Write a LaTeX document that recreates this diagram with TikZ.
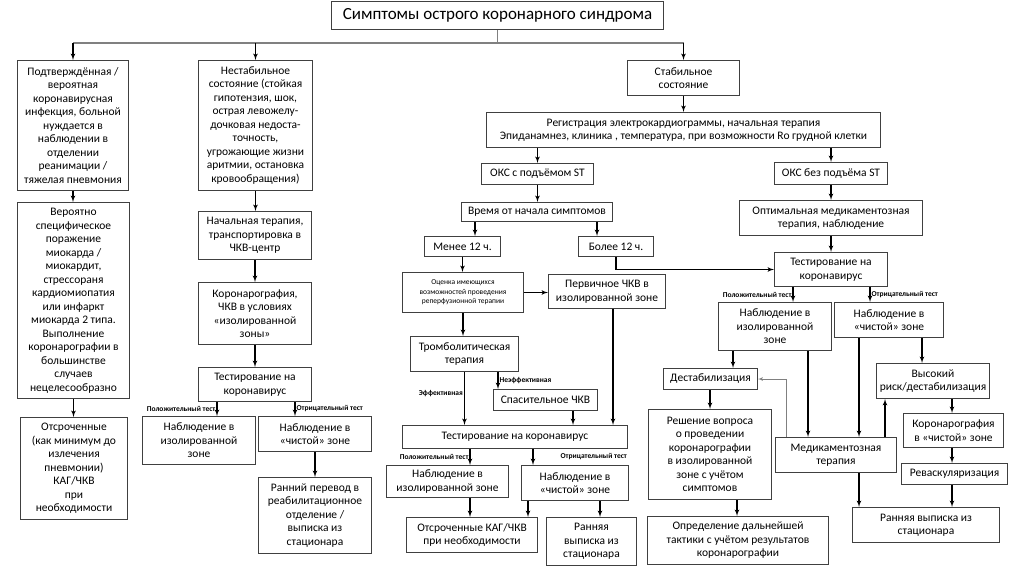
\documentclass[tikz,border=0pt]{standalone}
\usepackage{fontspec}
\setmainfont{Carlito}
\usetikzlibrary{arrows, calc}

\begin{document}
\begin{tikzpicture}[x=1pt,y=-1pt,line width=1.2pt,>=latex',
  box/.style={draw=black!75,line width=1pt,anchor=north west,align=center,inner sep=1pt,font=\fontsize{11.5}{13.5}\selectfont},
  lbl/.style={font=\bfseries\fontsize{7.5}{9}\selectfont,inner sep=1pt}]
\useasboundingbox[fill=white] (0,0) rectangle (1024,574);
% top
\node [box,minimum width=332,minimum height=28,font=\fontsize{17}{20}\selectfont] (title) at (331,1) {Симптомы острого коронарного синдрома};
\node [box,minimum width=111,minimum height=130] (conf) at (17,60) {Подтверждённая /\\вероятная\\коронавирусная\\инфекция, больной\\нуждается в\\наблюдении в\\отделении\\реанимации /\\тяжелая пневмония};
\node [box,minimum width=114,minimum height=130] (unst) at (198,60) {Нестабильное\\состояние (стойкая\\гипотензия, шок,\\острая левожелу-\\дочковая недоста-\\точность,\\угрожающие жизни\\аритмии, остановка\\кровообращения)};
\node [box,minimum width=112,minimum height=35] (stab) at (627,60) {Стабильное\\состояние};
% left columns
\node [box,minimum width=112,minimum height=196] (prob) at (17,202) {Вероятно\\специфическое\\поражение\\миокарда /\\миокардит,\\стрессораня\\кардиомиопатия\\или инфаркт\\миокарда 2 типа.\\Выполнение\\коронарографии в\\большинстве\\случаев\\нецелесообразно};
\node [box,minimum width=107,minimum height=102] (delayL) at (20,417) {Отсроченные\\(как минимум до\\излечения\\пневмонии)\\КАГ/ЧКВ\\при\\необходимости};
\node [box,minimum width=113,minimum height=48] (init) at (198,211) {Начальная терапия,\\транспортировка в\\ЧКВ-центр};
\node [box,minimum width=113,minimum height=62] (cag) at (198,282) {Коронарография,\\ЧКВ в условиях\\«изолированной\\зоны»};
\node [box,minimum width=113,minimum height=34] (testL) at (198,367) {Тестирование на\\коронавирус};
\node [box,minimum width=113,minimum height=48] (isoL) at (142,416) {Наблюдение в\\изолированной\\зоне};
\node [box,minimum width=113,minimum height=35] (cleanL) at (258,416) {Наблюдение в\\«чистой» зоне};
\node [box,minimum width=113,minimum height=76] (transfer) at (258,477) {Ранний перевод в\\реабилитационное\\отделение /\\выписка из\\стационара};
% stable branch
\node [box,minimum width=394,minimum height=35] (reg) at (486,112) {Регистрация электрокардиограммы, начальная терапия\\Эпиданамнез, клиника , температура, при возможности Ro грудной клетки};
\node [box,minimum width=112,minimum height=21] (stemi) at (481,163) {ОКС с подъёмом ST};
\node [box,minimum width=113,minimum height=22] (nstemi) at (774,162) {ОКС без подъёма ST};
\node [box,minimum width=151,minimum height=19] (time) at (461,202) {Время от начала симптомов};
\node [box,minimum width=183,minimum height=35] (opt) at (739,200) {Оптимальная медикаментозная\\терапия, наблюдение};
\node [box,minimum width=76,minimum height=20] (less) at (424,236) {Менее 12 ч.};
\node [box,minimum width=75,minimum height=20] (more) at (578,236) {Более 12 ч.};
\node [box,minimum width=121,minimum height=40,font=\fontsize{7.5}{9.5}\selectfont] (assess) at (402,272) {Оценка имеющихся\\возможностей проведения\\реперфузионной терапии};
\node [box,minimum width=117,minimum height=34] (pci) at (548,274) {Первичное ЧКВ в\\изолированной зоне};
\node [box,minimum width=108,minimum height=35] (thromb) at (410,336) {Тромболитическая\\терапия};
\node [box,minimum width=104,minimum height=21] (rescue) at (493,389) {Спасительное ЧКВ};
\node [box,minimum width=225,minimum height=23] (testM) at (402,425) {Тестирование на коронавирус};
\node [box,minimum width=122,minimum height=32] (isoM) at (386,465) {Наблюдение в\\изолированной зоне};
\node [box,minimum width=107,minimum height=35] (cleanM) at (521,465) {Наблюдение в\\«чистой» зоне};
\node [box,minimum width=131,minimum height=35] (delayM) at (406,517) {Отсроченные КАГ/ЧКВ\\при необходимости};
\node [box,minimum width=90,minimum height=48] (earlyM) at (546,517) {Ранняя\\выписка из\\стационара};
% right branch
\node [box,minimum width=113,minimum height=34] (testR) at (774,252) {Тестирование на\\коронавирус};
\node [box,minimum width=113,minimum height=48] (isoR) at (718,302) {Наблюдение в\\изолированной\\зоне};
\node [box,minimum width=109,minimum height=35] (cleanR) at (834,302) {Наблюдение в\\«чистой» зоне};
\node [box,minimum width=94,minimum height=21] (destab) at (663,368) {Дестабилизация};
\node [box,minimum width=121,minimum height=35] (med) at (775,437) {Медикаментозная\\терапия};
\node [box,minimum width=113,minimum height=35] (high) at (876,363) {Высокий\\риск/дестабилизация};
\node [box,minimum width=100,minimum height=34] (corC) at (903,413) {Коронарография\\в «чистой» зоне};
\node [box,minimum width=106,minimum height=21] (revasc) at (901,463) {Реваскуляризация};
\node [box,minimum width=147,minimum height=35] (earlyR) at (852,507) {Ранняя выписка из\\стационара};
\node [box,minimum width=123,minimum height=90] (decide) at (648,409) {Решение вопроса\\о проведении\\коронарографии\\в изолированной\\зоне с учётом\\симптомов};
\node [box,minimum width=181,minimum height=48] (define) at (647,516) {Определение дальнейшей\\тактики с учётом результатов\\коронарографии};

% connectors, top
\coordinate (hub) at ($(title.south)+(0,13)$);
\draw [gray] (title.south) -- (hub);
\draw [gray] (hub -| conf) -- (hub -| stab);
\draw [->] (hub -| conf) -- (conf.north);
\draw [->] (hub -| unst) -- (unst.north);
\draw [->] (hub -| stab) -- (stab.north);
% left
\draw [->] (conf.south) -- (conf.south |- prob.north);
\draw [->] (prob.south) -- (prob.south |- delayL.north);
\draw [->] (unst.south) -- (unst.south |- init.north);
\draw [->] (init.south) -- (init.south |- cag.north);
\draw [->] (cag.south) -- (cag.south |- testL.north);
\draw [->] ($(testL.south west)+(19,0)$) coordinate (a1) -- node [lbl,left] {Положительный тест} (a1 |- isoL.north);
\draw [->] ($(testL.south west)+(97,0)$) coordinate (a2) -- node [lbl,right] {Отрицательный тест} (a2 |- cleanL.north);
\draw [->] ($(cleanL.south west)+(57,0)$) coordinate (a3) -- (a3 |- transfer.north);
% middle
\draw [->] (stab.south) -- (stab.south |- reg.north);
\draw [->] (reg.south -| stemi) -- (stemi.north);
\draw [->] (reg.south -| nstemi) -- (nstemi.north);
\draw [->] (stemi.south) -- (stemi.south |- time.north);
\draw [->] ($(time.south west)+(14,0)$) coordinate (b1) -- (b1 |- less.north);
\draw [->] ($(time.south west)+(136,0)$) coordinate (b2) -- (b2 |- more.north);
\draw [->] (less.south) -- (less.south |- assess.north);
\draw [->] (more.south) |- (testR.west);
\draw [->] (assess.east) -- (assess.east -| pci.west);
\draw [->] (assess.south) -- (assess.south |- thromb.north);
\draw [->] (thromb.south) -- node [lbl,left,pos=.4] {Эффективная} (thromb.south |- testM.north);
\draw [->] ($(thromb.south west)+(88,0)$) coordinate (b3) -- node [lbl,right] {Неэффективная} (b3 |- rescue.north);
\draw [->] ($(rescue.south west)+(80,0)$) coordinate (b4) -- (b4 |- testM.north);
\draw [->] ($(pci.south)+(6,0)$) coordinate (b5) -- (b5 |- testM.north);
\draw [->] ($(testM.south west)+(68,0)$) coordinate (b6) -- node [lbl,left] {Положительный тест} (b6 |- isoM.north);
\draw [->] (b6 |- isoM.south) -- (b6 |- delayM.north);
\draw [->] ($(testM.south west)+(131,0)$) coordinate (b7) -- node [lbl,right,xshift=26] {Отрицательный тест} (b7 |- cleanM.north);
\draw [->] ($(cleanM.south west)+(7,0)$) coordinate (b8) -- (b8 |- delayM.north);
\draw [->] ($(cleanM.south west)+(79,0)$) coordinate (b9) -- (b9 |- earlyM.north);
% right
\draw [->] (nstemi.south) -- (nstemi.south |- opt.north);
\draw [->] (opt.south) -- (opt.south |- testR.north);
\draw [->] ($(testR.south west)+(19,0)$) coordinate (c1) -- node [lbl,left] {Положительный тест} (c1 |- isoR.north);
\draw [->] ($(testR.south west)+(96,0)$) coordinate (c2) -- node [lbl,right] {Отрицательный тест} (c2 |- cleanR.north);
\draw [->] ($(isoR.south west)+(15,0)$) coordinate (c3) -- (c3 |- destab.north);
\draw [->] ($(isoR.south west)+(90,0)$) coordinate (c4) -- (c4 |- med.north);
\draw [->] ($(cleanR.south west)+(25,0)$) coordinate (c5) -- (c5 |- med.north);
\draw [->] ($(cleanR.south west)+(88,0)$) coordinate (c6) -- (c6 |- high.north);
\draw [->,gray,line width=.7pt] ($(med.north west)+(11,0)$) |- (destab.east);
\draw [->] ($(med.north west)+(110,0)$) coordinate (c7) -- (c7 |- high.south);
\draw [->] (c5 |- med.south) -- (c5 |- earlyR.north);
\draw [->] ($(high.south west)+(76,0)$) coordinate (c8) -- (c8 |- corC.north);
\draw [->] (c8 |- corC.south) -- (c8 |- revasc.north);
\draw [->] (c8 |- revasc.south) -- (c8 |- earlyR.north);
\draw [->] ($(destab.south west)+(47,0)$) coordinate (c9) -- (c9 |- decide.north);
\draw [->] ($(decide.south west)+(89,0)$) coordinate (c10) -- (c10 |- define.north);
\end{tikzpicture}
\end{document}
